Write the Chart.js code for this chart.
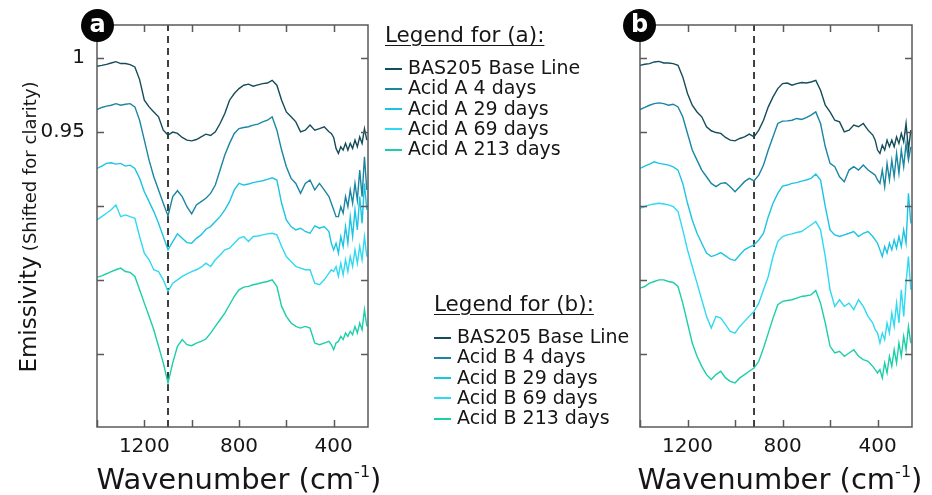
<!DOCTYPE html>
<html>
<head>
<meta charset="utf-8">
<script src="https://cdn.jsdelivr.net/npm/chart.js@4.4.1/dist/chart.umd.min.js"></script>
<style>
  body { margin: 0; width: 932px; height: 495px; background: #fff; position: relative; overflow: hidden; font-family: 'DejaVu Sans', sans-serif; color: #161616; }
  canvas { position: absolute; top: 0; }
  #chart-a { left: 0; }
  #chart-b { left: 560px; }
  .badge { position: absolute; width: 33px; height: 33px; border-radius: 50%; background: #050505; color: #fff; font-weight: bold; font-size: 24px; line-height: 31px; text-align: center; z-index: 2; }
  .xtitle { position: absolute; top: 455px; font-size: 29px; line-height: 34px; text-align: center; white-space: nowrap; }
  .xtitle sup { font-size: 16px; vertical-align: 12px; }
  .ytitle { position: absolute; width: 320px; height: 30px; line-height: 30px; text-align: center; white-space: nowrap; transform: rotate(-90deg); }
  .ytitle .big { font-size: 23px; }
  .ytitle .small { font-size: 18px; }
  .legend { position: absolute; white-space: nowrap; }
  .legend-title { font-size: 21.5px; line-height: 24px; text-decoration: underline; text-underline-offset: 3px; text-decoration-thickness: 1px; margin-bottom: 10px; }
  .legend-item { font-size: 19px; line-height: 20.3px; }
  .swatch { display: inline-block; width: 17px; height: 2px; vertical-align: middle; margin-right: 6px; }
</style>
</head>
<body>
<canvas id="chart-a" width="380" height="495"></canvas>
<canvas id="chart-b" width="372" height="495"></canvas>
<div class="badge" style="left:81px; top:9px">a</div>
<div class="badge" style="left:623px; top:9px">b</div>
<div class="ytitle" style="left:-132px; top:212px"><span class="big">Emissivity</span> <span class="small">(Shifted for clarity)</span></div>
<div class="xtitle" style="left:94px; width:290px">Wavenumber (cm<sup>-1</sup>)</div>
<div class="xtitle" style="left:635px; width:290px">Wavenumber (cm<sup>-1</sup>)</div>
<div class="legend" id="legend-a" style="left:385px; top:23px"></div>
<div class="legend" id="legend-b" style="left:434px; top:292px"></div>
<script>
const wavenumbers = [
  1400, 1380, 1360, 1340, 1320, 1300, 1280, 1260, 1240, 1220,
  1200, 1180, 1160, 1140, 1120, 1100, 1080, 1060, 1040, 1020,
  1000, 980, 960, 940, 920, 900, 880, 860, 840, 820,
  800, 780, 760, 740, 720, 700, 680, 660, 640, 620,
  600, 580, 560, 540, 520, 500, 480, 460, 440, 420,
  410, 400, 390, 380, 370, 360, 350, 340, 330, 320, 310, 300, 290, 280, 270, 260
];

// panel (a): basalt and acid A runs
const baseA = [
  0.9942, 0.9948, 0.9955, 0.9964, 0.9973, 0.9960, 0.9960, 0.9953, 0.9937, 0.9852,
  0.9713, 0.9668, 0.9634, 0.9601, 0.9511, 0.9478, 0.9498, 0.9489, 0.9462, 0.9444,
  0.9439, 0.9448, 0.9466, 0.9484, 0.9475, 0.9500, 0.9556, 0.9623, 0.9713, 0.9758,
  0.9791, 0.9814, 0.9821, 0.9807, 0.9816, 0.9825, 0.9829, 0.9847, 0.9814, 0.9713,
  0.9634, 0.9601, 0.9567, 0.9500, 0.9511, 0.9545, 0.9511, 0.9522, 0.9534, 0.9500,
  0.9489, 0.9462, 0.9388, 0.9354, 0.9399, 0.9377, 0.9422, 0.9377, 0.9422, 0.9388, 0.9444, 0.9399, 0.9466, 0.9422, 0.9522, 0.9444
];
const acidA4 = [
  0.9650, 0.9664, 0.9673, 0.9679, 0.9690, 0.9679, 0.9686, 0.9690, 0.9668, 0.9578,
  0.9444, 0.9309, 0.9197, 0.9108, 0.9018, 0.8933, 0.9063, 0.9103, 0.9063, 0.8995,
  0.8947, 0.9007, 0.9029, 0.9052, 0.9085, 0.9141, 0.9242, 0.9343, 0.9422, 0.9489,
  0.9522, 0.9529, 0.9534, 0.9545, 0.9552, 0.9567, 0.9578, 0.9601, 0.9511, 0.9377,
  0.9265, 0.9186, 0.9152, 0.9085, 0.9152, 0.9175, 0.9108, 0.9152, 0.9108, 0.9063,
  0.9018, 0.8974, 0.8928, 0.8928, 0.8995, 0.8951, 0.9063, 0.8995, 0.9108, 0.9018, 0.9152, 0.9040, 0.9242, 0.9063, 0.9332, 0.9108
];
const acidA29 = [
  0.9253, 0.9269, 0.9287, 0.9291, 0.9282, 0.9287, 0.9269, 0.9275, 0.9253, 0.9186,
  0.9096, 0.9029, 0.8962, 0.8883, 0.8794, 0.8704, 0.8760, 0.8812, 0.8782, 0.8753,
  0.8749, 0.8782, 0.8805, 0.8843, 0.8861, 0.8895, 0.8928, 0.8974, 0.9029, 0.9108,
  0.9152, 0.9141, 0.9148, 0.9157, 0.9164, 0.9170, 0.9179, 0.9190, 0.9175, 0.9018,
  0.8906, 0.8861, 0.8839, 0.8850, 0.8828, 0.8816, 0.8866, 0.8850, 0.8861, 0.8828,
  0.8749, 0.8704, 0.8749, 0.8682, 0.8794, 0.8727, 0.8861, 0.8749, 0.8928, 0.8794, 0.8974, 0.8839, 0.9063, 0.8883, 0.9152, 0.8974
];
const acidA69 = [
  0.8906, 0.8928, 0.8951, 0.8974, 0.9007, 0.8928, 0.8940, 0.8928, 0.8917, 0.8794,
  0.8682, 0.8637, 0.8570, 0.8558, 0.8502, 0.8424, 0.8480, 0.8502, 0.8525, 0.8543,
  0.8558, 0.8570, 0.8587, 0.8614, 0.8592, 0.8637, 0.8670, 0.8704, 0.8715, 0.8749,
  0.8782, 0.8794, 0.8760, 0.8794, 0.8798, 0.8805, 0.8812, 0.8816, 0.8805, 0.8727,
  0.8659, 0.8626, 0.8592, 0.8581, 0.8570, 0.8570, 0.8480, 0.8469, 0.8502, 0.8547,
  0.8570, 0.8558, 0.8592, 0.8525, 0.8614, 0.8536, 0.8637, 0.8558, 0.8659, 0.8592, 0.8704, 0.8614, 0.8727, 0.8637, 0.8794, 0.8659
];
const acidA213 = [
  0.8520, 0.8529, 0.8543, 0.8558, 0.8570, 0.8581, 0.8558, 0.8552, 0.8525, 0.8435,
  0.8345, 0.8256, 0.8166, 0.8054, 0.7942, 0.7807, 0.7942, 0.8054, 0.8099, 0.8065,
  0.8058, 0.8076, 0.8087, 0.8103, 0.8143, 0.8188, 0.8233, 0.8278, 0.8334, 0.8390,
  0.8435, 0.8453, 0.8458, 0.8469, 0.8476, 0.8484, 0.8491, 0.8502, 0.8458, 0.8323,
  0.8256, 0.8211, 0.8188, 0.8177, 0.8188, 0.8177, 0.8076, 0.8065, 0.8076, 0.8087,
  0.8065, 0.8031, 0.8076, 0.8087, 0.8121, 0.8099, 0.8143, 0.8121, 0.8155, 0.8132, 0.8188, 0.8143, 0.8211, 0.8166, 0.8301, 0.8188
];

// panel (b): basalt and acid B runs
const baseB = [
  0.9948, 0.9955, 0.9960, 0.9971, 0.9975, 0.9964, 0.9964, 0.9960, 0.9948, 0.9870,
  0.9758, 0.9679, 0.9634, 0.9601, 0.9534, 0.9507, 0.9495, 0.9489, 0.9462, 0.9444,
  0.9439, 0.9455, 0.9466, 0.9484, 0.9466, 0.9511, 0.9578, 0.9668, 0.9735, 0.9791,
  0.9825, 0.9829, 0.9814, 0.9825, 0.9832, 0.9829, 0.9836, 0.9847, 0.9780, 0.9679,
  0.9634, 0.9578, 0.9567, 0.9500, 0.9511, 0.9545, 0.9534, 0.9556, 0.9511, 0.9478,
  0.9444, 0.9377, 0.9354, 0.9410, 0.9377, 0.9444, 0.9399, 0.9444, 0.9399, 0.9466, 0.9422, 0.9489, 0.9433, 0.9556, 0.9377, 0.9511
];
const acidB4 = [
  0.9650, 0.9664, 0.9679, 0.9690, 0.9695, 0.9690, 0.9679, 0.9686, 0.9668, 0.9601,
  0.9489, 0.9377, 0.9309, 0.9242, 0.9197, 0.9152, 0.9130, 0.9152, 0.9157, 0.9130,
  0.9096, 0.9130, 0.9164, 0.9186, 0.9170, 0.9208, 0.9276, 0.9377, 0.9466, 0.9556,
  0.9572, 0.9574, 0.9578, 0.9590, 0.9583, 0.9596, 0.9612, 0.9634, 0.9556, 0.9399,
  0.9287, 0.9265, 0.9197, 0.9164, 0.9242, 0.9265, 0.9242, 0.9276, 0.9242, 0.9220,
  0.9208, 0.9175, 0.9152, 0.9242, 0.9130, 0.9287, 0.9175, 0.9309, 0.9197, 0.9354, 0.9220, 0.9377, 0.9265, 0.9422, 0.9309, 0.9399
];
const acidB29 = [
  0.9253, 0.9269, 0.9282, 0.9298, 0.9287, 0.9282, 0.9275, 0.9264, 0.9242, 0.9152,
  0.9018, 0.8906, 0.8816, 0.8749, 0.8682, 0.8659, 0.8670, 0.8686, 0.8664, 0.8641,
  0.8632, 0.8670, 0.8704, 0.8722, 0.8738, 0.8771, 0.8816, 0.8928, 0.9018, 0.9085,
  0.9134, 0.9141, 0.9152, 0.9157, 0.9168, 0.9175, 0.9186, 0.9215, 0.9175, 0.8995,
  0.8839, 0.8805, 0.8794, 0.8805, 0.8816, 0.8828, 0.8794, 0.8816, 0.8828, 0.8794,
  0.8771, 0.8749, 0.8704, 0.8659, 0.8727, 0.8682, 0.8749, 0.8704, 0.8771, 0.8715, 0.8794, 0.8727, 0.8839, 0.8749, 0.9085, 0.8883
];
const acidB69 = [
  0.8984, 0.8995, 0.9007, 0.9013, 0.9018, 0.9013, 0.9007, 0.8995, 0.8962, 0.8839,
  0.8704, 0.8592, 0.8480, 0.8368, 0.8256, 0.8177, 0.8256, 0.8244, 0.8200, 0.8155,
  0.8143, 0.8188, 0.8222, 0.8256, 0.8289, 0.8345, 0.8435, 0.8525, 0.8659, 0.8760,
  0.8794, 0.8805, 0.8812, 0.8821, 0.8828, 0.8850, 0.8872, 0.8895, 0.8839, 0.8659,
  0.8435, 0.8323, 0.8368, 0.8323, 0.8345, 0.8301, 0.8368, 0.8323, 0.8256, 0.8211,
  0.8166, 0.8143, 0.8076, 0.8143, 0.8099, 0.8211, 0.8143, 0.8278, 0.8188, 0.8345, 0.8211, 0.8435, 0.8256, 0.8480, 0.8659, 0.8435
];
const acidB213 = [
  0.8446, 0.8457, 0.8480, 0.8491, 0.8502, 0.8502, 0.8491, 0.8484, 0.8457, 0.8345,
  0.8211, 0.8076, 0.7987, 0.7919, 0.7863, 0.7830, 0.7863, 0.7886, 0.7841, 0.7818,
  0.7807, 0.7841, 0.7863, 0.7886, 0.7908, 0.7953, 0.8042, 0.8143, 0.8244, 0.8334,
  0.8357, 0.8363, 0.8368, 0.8379, 0.8390, 0.8395, 0.8401, 0.8430, 0.8345, 0.8211,
  0.8054, 0.8009, 0.8020, 0.7987, 0.8009, 0.8031, 0.7987, 0.7964, 0.7953, 0.7919,
  0.7897, 0.7874, 0.7897, 0.7841, 0.7942, 0.7874, 0.7987, 0.7919, 0.8031, 0.7942, 0.8076, 0.7987, 0.8121, 0.8031, 0.8188, 0.8076
];

const labelsA = ['BAS205 Base Line', 'Acid A 4 days', 'Acid A 29 days', 'Acid A 69 days', 'Acid A 213 days'];
const labelsB = ['BAS205 Base Line', 'Acid B 4 days', 'Acid B 29 days', 'Acid B 69 days', 'Acid B 213 days'];
const seriesColors = ['#144c5b', '#1a86a2', '#1cc4e4', '#2fd9f2', '#1ccfa9'];

const xTickLabels = [1200, 800, 400];
const yTickLabelsA = [1, 0.95];
const markerA = 1100;
const markerB = 920;
const xRange = [255, 1400];
const yRange = [0.751, 1.022];

// frame on all four sides with inward tick marks
const frameTicks = {
  id: 'frameTicks',
  afterDatasetsDraw(chart) {
    const { ctx, chartArea: a, scales: { x, y } } = chart;
    ctx.save();
    ctx.strokeStyle = '#5a5a5a';
    ctx.lineWidth = 1.5;
    ctx.strokeRect(a.left, a.top, a.right - a.left, a.bottom - a.top);
    ctx.beginPath();
    x.ticks.forEach((t) => {
      const px = Math.round(x.getPixelForValue(t.value)) + 0.5;
      ctx.moveTo(px, a.bottom); ctx.lineTo(px, a.bottom - 7);
      ctx.moveTo(px, a.top); ctx.lineTo(px, a.top + 7);
    });
    y.ticks.forEach((t) => {
      const py = Math.round(y.getPixelForValue(t.value)) + 0.5;
      ctx.moveTo(a.left, py); ctx.lineTo(a.left + 7, py);
      ctx.moveTo(a.right, py); ctx.lineTo(a.right - 7, py);
    });
    ctx.stroke();
    ctx.restore();
  }
};

function toPoints(values) {
  return wavenumbers.map((w, i) => ({ x: w, y: values[i] }));
}

function buildChart(id, series, marker, yLabels, axisWidth, padRight) {
  const datasets = series.map((values, i) => ({
    data: toPoints(values),
    borderColor: seriesColors[i],
    borderWidth: 1.4,
    pointRadius: 0,
    tension: 0
  }));
  datasets.push({
    data: [{ x: marker, y: yRange[0] }, { x: marker, y: yRange[1] }],
    borderColor: '#111',
    borderWidth: 1.6,
    borderDash: [7, 5],
    pointRadius: 0
  });

  new Chart(document.getElementById(id), {
    type: 'line',
    data: { datasets },
    plugins: [frameTicks],
    options: {
      responsive: false,
      animation: false,
      layout: { padding: { top: 25, right: padRight, left: 0, bottom: 0 } },
      scales: {
        x: {
          type: 'linear',
          reverse: true,
          min: xRange[0],
          max: xRange[1],
          grid: { display: false, drawTicks: false },
          border: { display: false },
          afterFit: (scale) => { scale.height = 68; },
          ticks: {
            stepSize: 200,
            includeBounds: false,
            autoSkip: false,
            maxRotation: 0,
            padding: 8,
            color: '#161616',
            font: { size: 20 },
            callback: (value) => (xTickLabels.includes(value) ? String(value) : '')
          }
        },
        y: {
          type: 'linear',
          min: yRange[0],
          max: yRange[1],
          grid: { display: false, drawTicks: false },
          border: { display: false },
          afterFit: (scale) => { scale.width = axisWidth; },
          ticks: {
            stepSize: 0.05,
            includeBounds: false,
            padding: 12,
            color: '#161616',
            font: { size: 20 },
            callback: (value) => {
              const hit = yLabels.find((v) => Math.abs(v - value) < 1e-6);
              return hit === undefined ? '' : String(hit);
            }
          }
        }
      },
      plugins: {
        legend: { display: false },
        tooltip: { enabled: false }
      }
    }
  });
}

function renderLegend(id, title, labels) {
  const box = document.getElementById(id);
  const head = document.createElement('div');
  head.className = 'legend-title';
  head.textContent = title;
  box.appendChild(head);
  labels.forEach((label, i) => {
    const row = document.createElement('div');
    row.className = 'legend-item';
    const swatch = document.createElement('span');
    swatch.className = 'swatch';
    swatch.style.background = seriesColors[i];
    row.appendChild(swatch);
    row.appendChild(document.createTextNode(label));
    box.appendChild(row);
  });
}

Chart.defaults.font.family = "'DejaVu Sans', sans-serif";
buildChart('chart-a', [baseA, acidA4, acidA29, acidA69, acidA213], markerA, yTickLabelsA, 97, 12);
buildChart('chart-b', [baseB, acidB4, acidB29, acidB69, acidB213], markerB, [], 80, 20);
renderLegend('legend-a', 'Legend for (a):', labelsA);
renderLegend('legend-b', 'Legend for (b):', labelsB);
</script>
</body>
</html>
